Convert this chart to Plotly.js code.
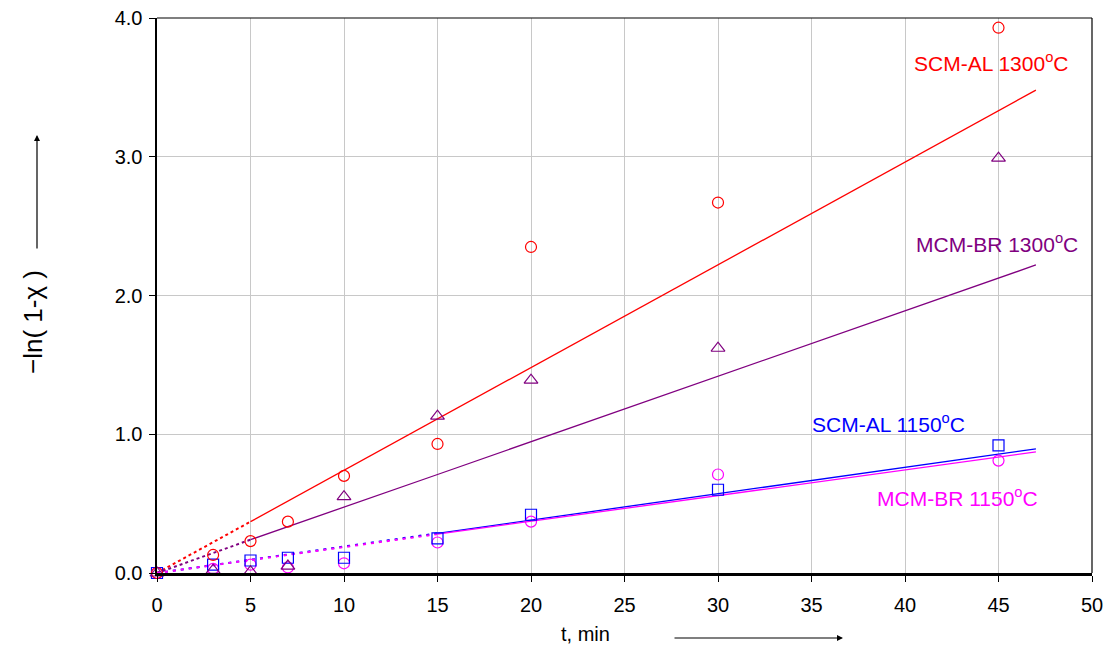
<!DOCTYPE html>
<html>
<head>
<meta charset="utf-8">
<script src="https://cdn.plot.ly/plotly-3.0.1.min.js"></script>
<style>html,body{margin:0;padding:0;background:#fff;}#chart{width:1104px;height:648px;}</style>
</head>
<body>
<div id="chart"></div>
<script>
// measured times (min)
var tData = [0, 3, 5, 7, 10, 15, 20, 30, 45];
// -ln(1-x) values
var scm1300 = [0, 0.13, 0.23, 0.37, 0.70, 0.93, 2.35, 2.67, 3.93];
var mcm1300 = [0, 0.02, 0.01, 0.05, 0.55, 1.13, 1.39, 1.62, 2.99];
var scm1150 = [0, 0.06, 0.09, 0.11, 0.11, 0.25, 0.42, 0.60, 0.92];
var mcm1150 = [0, 0.03, 0.06, 0.04, 0.07, 0.22, 0.37, 0.71, 0.81];

// fitted lines
var fitT = [0, 5, 15, 47];
var fitScm1300 = [0, 0.37, 1.11, 3.48];
var fitMcm1300 = [0, 0.24, 0.71, 2.22];
var fitScm1150 = [0, 0.095, 0.286, 0.895];
var fitMcm1150 = [0, 0.093, 0.280, 0.873];

var labels = ['SCM-AL 1300<sup>o</sup>C', 'MCM-BR 1300<sup>o</sup>C', 'SCM-AL 1150<sup>o</sup>C', 'MCM-BR 1150<sup>o</sup>C'];
var xTicks = [0, 5, 10, 15, 20, 25, 30, 35, 40, 45, 50];
var yTicks = [0, 1, 2, 3, 4];

var cRed = '#ff0000', cPur = '#800080', cBlue = '#0000ff', cMag = '#ff00ff';

function seg(arr, i0, i1) { return arr.slice(i0, i1 + 1); }

var traces = [];
// red & purple: dotted 0..5, solid 5..47
traces.push({x: seg(fitT,0,1), y: seg(fitScm1300,0,1), mode:'lines', line:{color:cRed, width:2, dash:'dot'}});
traces.push({x: seg(fitT,1,3), y: seg(fitScm1300,1,3), mode:'lines', line:{color:cRed, width:1.3}});
traces.push({x: seg(fitT,0,1), y: seg(fitMcm1300,0,1), mode:'lines', line:{color:cPur, width:2, dash:'dot'}});
traces.push({x: seg(fitT,1,3), y: seg(fitMcm1300,1,3), mode:'lines', line:{color:cPur, width:1.3}});
// blue & magenta: dashed 0..15, solid 15..47
traces.push({x: seg(fitT,0,2), y: seg(fitScm1150,0,2), mode:'lines', line:{color:cBlue, width:2, dash:'3px,5px'}});
traces.push({x: seg(fitT,2,3), y: seg(fitScm1150,2,3), mode:'lines', line:{color:cBlue, width:1.3}});
traces.push({x: seg(fitT,0,2), y: seg(fitMcm1150,0,2), mode:'lines', line:{color:cMag, width:2, dash:'3px,5px'}});
traces.push({x: seg(fitT,2,3), y: seg(fitMcm1150,2,3), mode:'lines', line:{color:cMag, width:1.3}});

traces.push({x: tData, y: mcm1150, mode:'markers', cliponaxis:false, marker:{symbol:'circle-open', size:11, color:cMag, line:{width:1.2}}});
traces.push({x: tData, y: scm1150, mode:'markers', cliponaxis:false, marker:{symbol:'square-open', size:11, color:cBlue, line:{width:1.2}}});
traces.push({x: tData, y: scm1300, mode:'markers', cliponaxis:false, marker:{symbol:'circle-open', size:11, color:cRed, line:{width:1.2}}});
traces.push({x: tData, y: mcm1300, mode:'markers', cliponaxis:false, marker:{symbol:'triangle-up-open', size:12, color:cPur, line:{width:1.2}}});

var fontFam = 'Liberation Sans, Arial, sans-serif';

var layout = {
  width: 1104, height: 648,
  margin: {l: 157, r: 12, t: 18, b: 75},
  paper_bgcolor: '#ffffff', plot_bgcolor: '#ffffff',
  showlegend: false,
  font: {family: fontFam, size: 20, color: '#000'},
  xaxis: {
    range: [0, 50], tickvals: xTicks, ticktext: xTicks.map(String),
    showgrid: true, gridcolor: '#c8c8c8', gridwidth: 1,
    zeroline: false, showline: true, linecolor: '#000', linewidth: 2.5,
    ticks: 'outside', ticklen: 6, tickwidth: 1, tickcolor: '#000',
    ticklabelstandoff: 6,
    tickfont: {size: 20, family: fontFam}, fixedrange: true
  },
  yaxis: {
    range: [0, 4], tickvals: yTicks, ticktext: yTicks.map(function(v){return v.toFixed(1);}),
    showgrid: true, gridcolor: '#c8c8c8', gridwidth: 1,
    zeroline: false, showline: true, linecolor: '#000', linewidth: 2.5,
    ticks: 'outside', ticklen: 6, tickwidth: 1, tickcolor: '#000',
    ticklabelstandoff: 2,
    tickfont: {size: 20, family: fontFam}, fixedrange: true
  },
  shapes: [
    {type:'line', xref:'paper', yref:'paper', x0:0, x1:1, y0:1, y1:1, line:{color:'#000', width:1.2}},
    {type:'line', xref:'paper', yref:'paper', x0:1, x1:1, y0:0, y1:1, line:{color:'#000', width:1.2}}
  ],
  annotations: [
    {text: labels[0], x: 44.6, y: 3.68, xref:'x', yref:'y', showarrow:false, font:{color:cRed, size:21, family:fontFam}},
    {text: labels[1], x: 44.9, y: 2.38, xref:'x', yref:'y', showarrow:false, font:{color:cPur, size:21, family:fontFam}},
    {text: labels[2], x: 39.1, y: 1.08, xref:'x', yref:'y', showarrow:false, font:{color:cBlue, size:21, family:fontFam}},
    {text: labels[3], x: 42.8, y: 0.55, xref:'x', yref:'y', showarrow:false, font:{color:cMag, size:21, family:fontFam}},
    // x-axis title and arrow
    {text: 't, min', xref:'paper', yref:'paper', x: (585-157)/935, y: -(634-573)/555, xanchor:'center', yanchor:'middle', showarrow:false, font:{size:20, family:fontFam}},
    {text: '', xref:'paper', yref:'paper', x: (843-157)/935, y: -(638-573)/555, ax: (673-157)/935, ay: -(638-573)/555, axref:'paper', ayref:'paper', showarrow:true, arrowhead:2, arrowsize:1, arrowwidth:1.2, arrowcolor:'#000'},
    // y-axis title and arrow
    {text: '\u2212ln( 1-\u03C7 )', xref:'paper', yref:'paper', x: (33-157)/935, y: (573-322)/555, xanchor:'center', yanchor:'middle', textangle:-90, showarrow:false, font:{size:26, family:fontFam}},
    {text: '', xref:'paper', yref:'paper', x: (37-157)/935, y: (573-135)/555, ax: (37-157)/935, ay: (573-250)/555, axref:'paper', ayref:'paper', showarrow:true, arrowhead:2, arrowsize:1, arrowwidth:1.2, arrowcolor:'#000'}
  ]
};

Plotly.newPlot('chart', traces, layout, {staticPlot: true, displayModeBar: false});
</script>
</body>
</html>
